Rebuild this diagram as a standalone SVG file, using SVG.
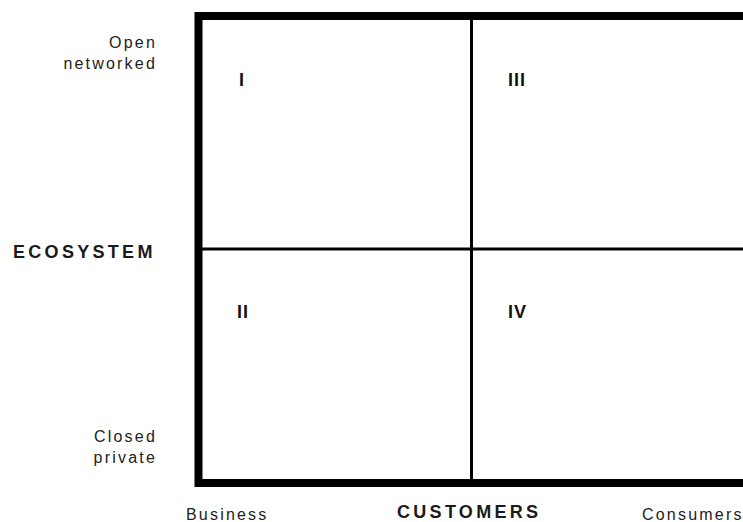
<svg xmlns="http://www.w3.org/2000/svg" width="743" height="522" viewBox="0 0 743 522">
<style>
.lbl{font-family:"Liberation Sans",Arial,sans-serif;font-size:16px;fill:#222;letter-spacing:2.2px}
.ttl{font-family:"Liberation Sans",Arial,sans-serif;font-size:18px;font-weight:bold;fill:#1a1a1a;letter-spacing:3.3px}
.num{font-family:"Liberation Sans",Arial,sans-serif;font-size:18px;font-weight:bold;fill:#111;letter-spacing:1px}
</style>
<rect width="743" height="522" fill="#fff"/>
<g id="connectors">
<line x1="471.5" y1="16" x2="471.5" y2="483" stroke="#000" stroke-width="3"/>
<line x1="198.5" y1="249" x2="748" y2="249" stroke="#000" stroke-width="3"/>
</g>
<g id="frame">
<rect x="198.5" y="16" width="552" height="467" fill="none" stroke="#000" stroke-width="8"/>
</g>
<g id="q1"><text class="num" x="239" y="86">I</text></g>
<g id="q3"><text class="num" x="508" y="86">III</text></g>
<g id="q2"><text class="num" x="237" y="318">II</text></g>
<g id="q4"><text class="num" x="508" y="318">IV</text></g>
<g id="ylabels">
<text class="lbl" x="157" y="48" text-anchor="end">Open</text>
<text class="lbl" x="157" y="69" text-anchor="end">networked</text>
<text class="ttl" x="13" y="258">ECOSYSTEM</text>
<text class="lbl" x="157" y="442" text-anchor="end">Closed</text>
<text class="lbl" x="157" y="463" text-anchor="end">private</text>
</g>
<g id="xlabels">
<text class="lbl" x="186" y="520">Business</text>
<text class="ttl" x="397" y="518">CUSTOMERS</text>
<text class="lbl" x="642" y="520">Consumers</text>
</g>
</svg>
